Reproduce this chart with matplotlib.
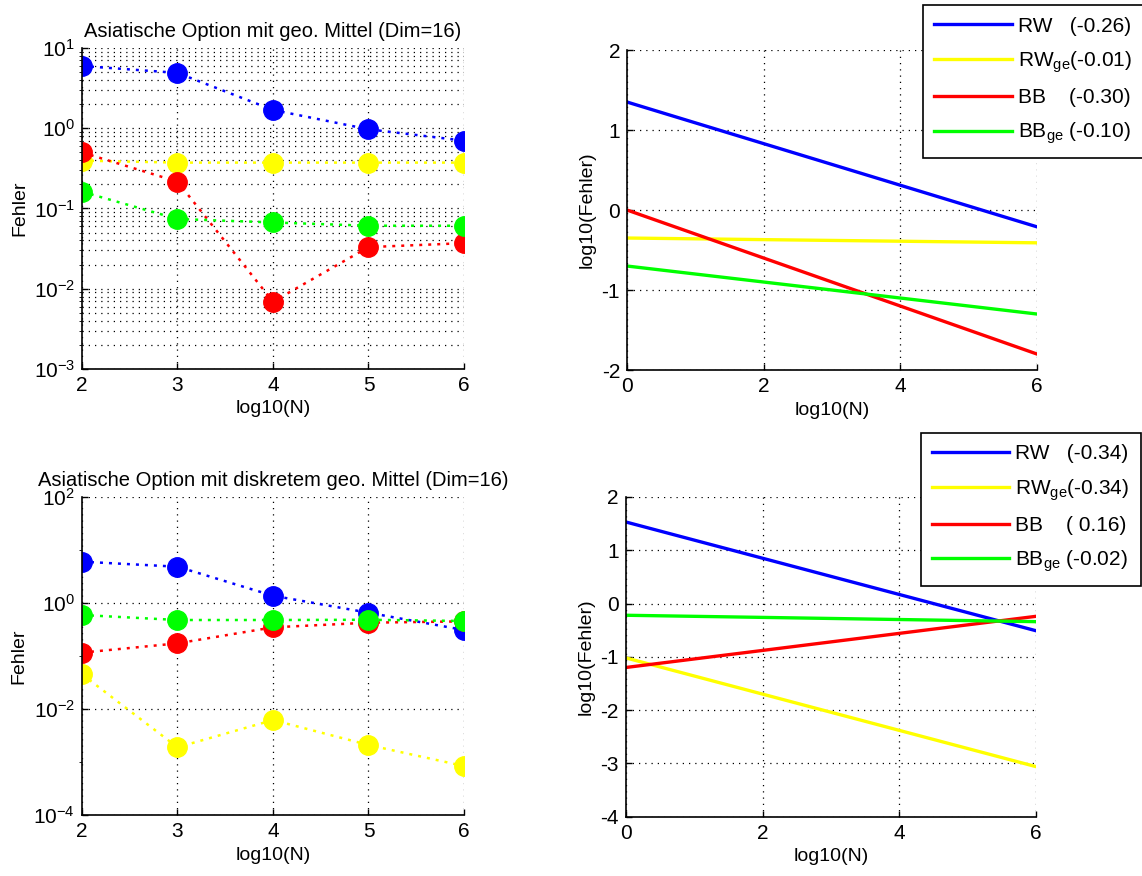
import numpy as np
import matplotlib
matplotlib.use("Agg")
import matplotlib.pyplot as plt
from matplotlib.ticker import LogLocator, NullFormatter

plt.rcParams['font.family'] = ['Liberation Sans', 'DejaVu Sans']
plt.rcParams['mathtext.fontset'] = 'custom'
plt.rcParams['mathtext.rm'] = 'Liberation Sans'
plt.rcParams['mathtext.it'] = 'Liberation Sans:italic'
plt.rcParams['mathtext.default'] = 'regular'
plt.rcParams['axes.unicode_minus'] = False
plt.rcParams['font.size'] = 13

# log10(N)
log_n = [2, 3, 4, 5, 6]
labels = ['RW', 'RW$_{ge}$', 'BB', 'BB$_{ge}$']
label_gap = ['   ', '', '    ', ' ']
colors = ['#0000ff', '#ffff00', '#ff0000', '#00ff00']

# error, geometric mean (continuous)
geo_rw = [5.97, 4.9, 1.69, 0.97, 0.70]
geo_rw_ge = [0.395, 0.373, 0.373, 0.373, 0.373]
geo_bb = [0.50, 0.216, 0.0069, 0.033, 0.037]
geo_bb_ge = [0.162, 0.074, 0.067, 0.061, 0.061]

# error, discrete geometric mean
disc_rw = [5.96, 4.79, 1.36, 0.65, 0.307]
disc_rw_ge = [0.0449, 0.00189, 0.00617, 0.00209, 0.000838]
disc_bb = [0.115, 0.172, 0.345, 0.422, 0.447]
disc_bb_ge = [0.589, 0.474, 0.474, 0.479, 0.454]

# regression lines log10(Fehler) = a + b*log10(N)
geo_fit_a = [1.35, -0.35, 0.0, -0.70]
geo_fit_b = [-0.26, -0.01, -0.30, -0.10]
disc_fit_a = [1.53, -1.02, -1.20, -0.22]
disc_fit_b = [-0.34, -0.34, 0.16, -0.02]

grid_kw = dict(color='k', linestyle=(0, (1, 4)), linewidth=0.9)


def style_axes(ax):
    for side in ['top', 'right']:
        ax.spines[side].set_visible(False)
    for side in ['left', 'bottom']:
        ax.spines[side].set_linewidth(1.2)
    ax.tick_params(direction='in', length=4, width=1, labelsize=15, pad=5)
    ax.set_axisbelow(True)


def error_panel(ax, series, title, ylim, ticks, minor):
    for y, c in zip(series, colors):
        ax.semilogy(log_n, y, linestyle=(0, (1.2, 2.4)), linewidth=1.8, color=c,
                    marker='o', markersize=14, markerfacecolor=c, markeredgecolor=c)
    ax.set_xlim(2, 6)
    ax.set_ylim(*ylim)
    ax.set_xticks(log_n)
    ax.set_yticks(ticks)
    ax.yaxis.set_minor_formatter(NullFormatter())
    if minor:
        ax.yaxis.set_minor_locator(LogLocator(base=10, subs=np.arange(2, 10)))
        ax.grid(True, which='minor', axis='y', **grid_kw)
    else:
        ax.yaxis.set_minor_locator(LogLocator(base=10, subs=[]))
    ax.grid(True, which='major', **grid_kw)
    ax.set_title(title, fontsize=14.5, pad=8)
    ax.set_xlabel('log10(N)', fontsize=14)
    ax.set_ylabel('Fehler', fontsize=14)
    style_axes(ax)


def fit_panel(ax, fit_a, fit_b, ylim, legend_anchor):
    xs = np.array([0.0, 6.0])
    for a, b, lab, gap, c in zip(fit_a, fit_b, labels, label_gap, colors):
        ax.plot(xs, a + b * xs, color=c, linewidth=2.4,
                label=f'{lab}{gap}({b:5.2f})')
    ax.set_xlim(0, 6)
    ax.set_ylim(*ylim)
    ax.set_xticks([0, 2, 4, 6])
    ax.set_yticks(np.arange(ylim[0], ylim[1] + 1))
    ax.grid(True, **grid_kw)
    ax.set_xlabel('log10(N)', fontsize=14)
    ax.set_ylabel('log10(Fehler)', fontsize=14)
    style_axes(ax)
    leg = ax.legend(loc='upper right', bbox_to_anchor=legend_anchor,
                    bbox_transform=ax.figure.transFigure, fontsize=15,
                    handlelength=3.7, handletextpad=0.3, labelspacing=0.65,
                    borderpad=0.55, borderaxespad=0,
                    fancybox=False, framealpha=1, edgecolor='k')
    leg.get_frame().set_linewidth(1.2)


fig = plt.figure(figsize=(11.42, 8.76), dpi=100)
ax1 = fig.add_axes([0.0718, 0.5788, 0.3345, 0.3664])
ax2 = fig.add_axes([0.5490, 0.5776, 0.3590, 0.3653])
ax3 = fig.add_axes([0.0718, 0.0696, 0.3345, 0.3634])
ax4 = fig.add_axes([0.5481, 0.0677, 0.3590, 0.3650])

error_panel(ax1, [geo_rw, geo_rw_ge, geo_bb, geo_bb_ge],
            'Asiatische Option mit geo. Mittel (Dim=16)',
            (1e-3, 1e1), [1e-3, 1e-2, 1e-1, 1e0, 1e1], True)
fit_panel(ax2, geo_fit_a, geo_fit_b, (-2, 2), (1.001, 0.994))

error_panel(ax3, [disc_rw, disc_rw_ge, disc_bb, disc_bb_ge],
            'Asiatische Option mit diskretem geo. Mittel (Dim=16)',
            (1e-4, 1e2), [1e-4, 1e-2, 1e0, 1e2], False)
fit_panel(ax4, disc_fit_a, disc_fit_b, (-4, 2), (0.999, 0.5057))

fig.savefig('out.png', dpi=100, facecolor='white')
